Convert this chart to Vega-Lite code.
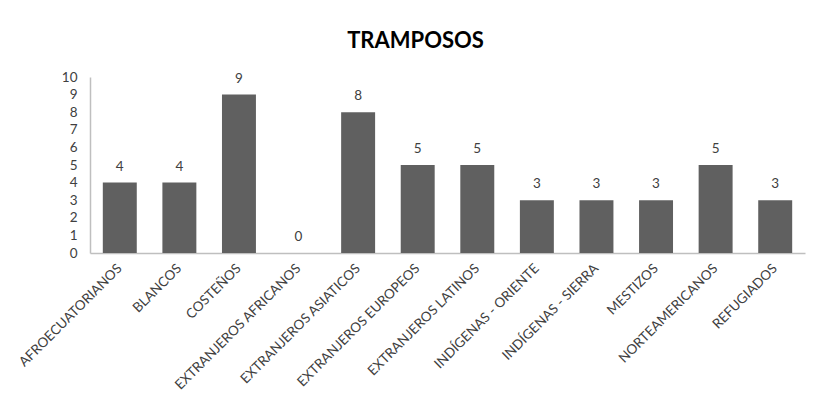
{
  "$schema": "https://vega.github.io/schema/vega-lite/v6.json",
  "width": 715,
  "height": 176,
  "autosize": {"type": "none"},
  "padding": {"left": 90, "top": 77, "right": 8, "bottom": 147},
  "background": "white",
  "title": {
    "text": "TRAMPOSOS",
    "font": "Lato",
    "fontSize": 22,
    "fontWeight": "bold",
    "color": "#000000",
    "anchor": "middle",
    "dx": -32,
    "offset": 17
  },
  "data": {
    "values": [
      {"grupo": "AFROECUATORIANOS", "n": 4},
      {"grupo": "BLANCOS", "n": 4},
      {"grupo": "COSTEÑOS", "n": 9},
      {"grupo": "EXTRANJEROS AFRICANOS", "n": 0},
      {"grupo": "EXTRANJEROS ASIATICOS", "n": 8},
      {"grupo": "EXTRANJEROS EUROPEOS", "n": 5},
      {"grupo": "EXTRANJEROS LATINOS", "n": 5},
      {"grupo": "INDÍGENAS - ORIENTE", "n": 3},
      {"grupo": "INDÍGENAS - SIERRA", "n": 3},
      {"grupo": "MESTIZOS", "n": 3},
      {"grupo": "NORTEAMERICANOS", "n": 5},
      {"grupo": "REFUGIADOS", "n": 3}
    ]
  },
  "encoding": {
    "x": {
      "field": "grupo",
      "type": "nominal",
      "sort": null,
      "scale": {"paddingInner": 0.43, "paddingOuter": 0.215},
      "axis": {
        "title": null,
        "labelAngle": -45,
        "labelAlign": "right",
        "labelBaseline": "middle",
        "labelPadding": 13,
        "labelFont": "Lato",
        "labelFontSize": 13.5,
        "labelColor": "#404040",
        "labelOverlap": false,
        "labelLimit": 300,
        "ticks": false,
        "domainColor": "#bfbfbf",
        "domainWidth": 1.5,
        "grid": false
      }
    },
    "y": {
      "field": "n",
      "type": "quantitative",
      "scale": {"domain": [0, 10], "nice": false},
      "axis": {
        "title": null,
        "values": [0, 1, 2, 3, 4, 5, 6, 7, 8, 9, 10],
        "ticks": false,
        "labelPadding": 13,
        "labelFont": "Lato",
        "labelFontSize": 13.5,
        "labelColor": "#404040",
        "domainColor": "#bfbfbf",
        "domainWidth": 1.5,
        "grid": false
      }
    }
  },
  "layer": [
    {
      "mark": {"type": "bar", "color": "#606060"}
    },
    {
      "mark": {"type": "text", "font": "Lato", "fontSize": 13.5, "color": "#404040", "baseline": "alphabetic", "dy": -12},
      "encoding": {"text": {"field": "n", "type": "quantitative"}}
    }
  ],
  "config": {"view": {"stroke": null}}
}
